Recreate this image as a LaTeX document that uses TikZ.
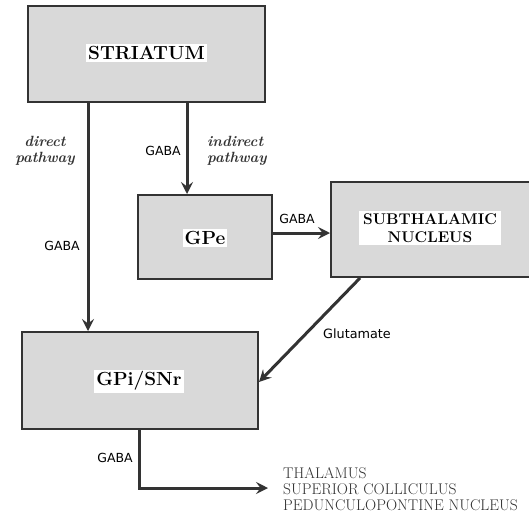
\documentclass[tikz,border=0pt]{standalone}
\usepackage{fontspec}
\newfontfamily\labfont{DejaVu Sans}
\usetikzlibrary{arrows.meta}
\definecolor{boxfill}{HTML}{D9D9D9}
\definecolor{ink}{HTML}{333333}
\begin{document}
\begin{tikzpicture}[x=1pt,y=-1pt,
  region/.style={draw=ink, line width=2pt, fill=boxfill, inner sep=0pt},
  regtext/.style={fill=white, text=black, inner sep=2pt, align=center, font=\bfseries\fontsize{19}{19}\selectfont},
  conn/.style={draw=ink, line width=3pt, -{Stealth[length=12pt,width=12pt,inset=4.5pt]}},
  nt/.style={font=\labfont\fontsize{12.5}{14}\selectfont, text=black, inner sep=0pt},
  path/.style={font=\bfseries\itshape\fontsize{14.8}{16}\selectfont, text=ink, inner sep=0pt, align=center},
]
\useasboundingbox (0,0) rectangle (529,514);
\clip (0,0) rectangle (529,514);
\fill[white] (0,0) rectangle (529,514);
% boxes
\node[region, minimum width=237pt, minimum height=96pt] (STR) at (146.5,54) {};
\node[regtext] (STRt) at (146.5,53) {STRIATUM};
\node[region, minimum width=134pt, minimum height=84pt] (GPe) at (205,237) {};
\node[regtext] (GPet) at (205,238) {GPe};
\node[region, minimum width=210pt, minimum height=95pt, anchor=west] (STN) at (330,229.5) {};
\node[regtext, font=\bfseries\fontsize{15.5}{18}\selectfont, inner xsep=4pt] (STNt) at (430,228) {SUBTHALAMIC\\NUCLEUS};
\node[region, minimum width=236pt, minimum height=97pt] (GPi) at (140,380.5) {};
\node[regtext] (GPit) at (139,381) {GPi/SNr};
% helper coordinates
\coordinate (xd) at (88,0);
\coordinate (xi) at (187,0);
\coordinate (ys) at (0,233);
\coordinate (g1) at (360,0);
\coordinate (g2) at (0,382);
\coordinate (xo) at (139,0);
\coordinate (out) at (268,488);
% connectors
\draw[conn] (STR.south -| xd) -- (GPi.north -| xd);
\draw[conn] (STR.south -| xi) -- (GPe.north -| xi);
\draw[conn] (GPe.east |- ys) -- (STN.west |- ys);
\draw[conn] (STN.south -| g1) -- (GPi.east |- g2);
\draw[conn] (GPi.south -| xo) -- (xo |- out) -- (out);
% labels
\node[path] (ld) at (45,151) {direct\\pathway};
\node[path, anchor=west, align=left] (li) at (207,151) {indirect\\pathway};
\node[nt] (a1) at (163,151) {GABA};
\node[nt] (a2) at (62,246) {GABA};
\node[nt] (a3) at (297,219) {GABA};
\node[nt, font=\labfont\fontsize{12.8}{14}\selectfont] (a4) at (357,334) {Glutamate};
\node[nt] (a5) at (115,458) {GABA};
\node[anchor=west, align=left, inner sep=0pt, text=ink, font=\fontsize{15.5}{15.8}\selectfont] (tgt) at (283,489) {THALAMUS\\SUPERIOR COLLICULUS\\PEDUNCULOPONTINE NUCLEUS};
\end{tikzpicture}
\end{document}
